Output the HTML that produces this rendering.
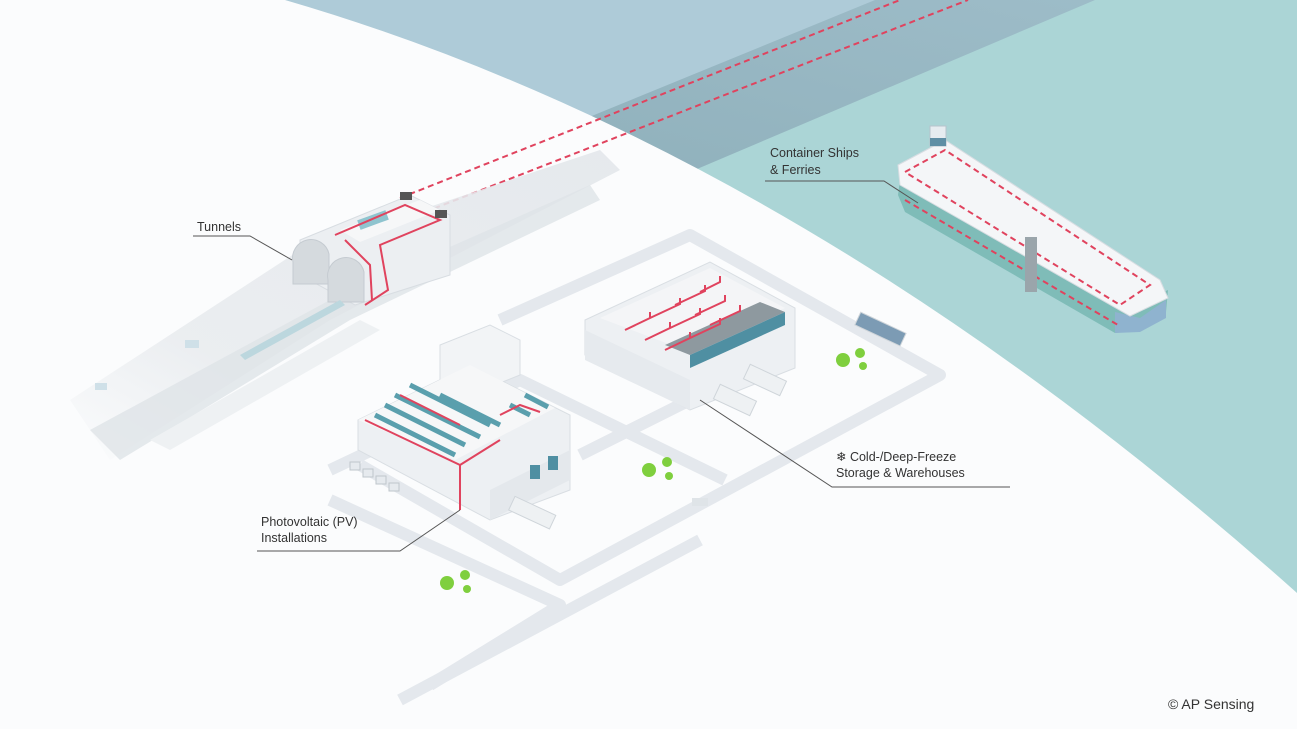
<!DOCTYPE html>
<html><head><meta charset="utf-8"><style>
html,body{margin:0;padding:0;background:#fbfcfd;}
svg{display:block;font-family:"Liberation Sans","DejaVu Sans",sans-serif;}
</style></head><body>
<svg width="1297" height="729" viewBox="0 0 1297 729" xmlns="http://www.w3.org/2000/svg">
<defs>
<linearGradient id="road" x1="0" y1="1" x2="1" y2="0">
<stop offset="0" stop-color="#fbfcfd"/><stop offset="0.3" stop-color="#e9ecef"/><stop offset="1" stop-color="#e3e7eb"/>
</linearGradient>
<linearGradient id="band" x1="0" y1="1" x2="1" y2="0">
<stop offset="0" stop-color="#8fb0bb"/><stop offset="1" stop-color="#9dbcc8"/>
</linearGradient>
</defs>
<!-- sea -->
<rect width="1297" height="729" fill="#abd5d6"/>
<polygon points="285,0 1090,0 690,170 285,170" fill="#aecbd8"/>
<polygon points="875,0 1095,0 690,172 455,172" fill="url(#band)"/>
<!-- land -->
<path d="M0,0 L285,0 Q800,150 1297,593 L1297,729 L0,729 Z" fill="#fbfcfd"/>
<!-- red dashed cables from tunnel -->
<line x1="400" y1="198" x2="900" y2="0" stroke="#e0435e" stroke-width="2" stroke-dasharray="6,4"/>
<line x1="425" y1="212" x2="968" y2="0" stroke="#e0435e" stroke-width="2" stroke-dasharray="6,4"/>
<!-- tunnel roads -->
<polygon points="70,400 300,250 600,150 620,170 330,320 110,460" fill="url(#road)" opacity="0.9"/>
<polygon points="90,430 330,300 590,185 600,200 350,320 120,460" fill="#dfe3e7" opacity="0.8"/>
<polygon points="150,440 360,320 380,330 170,450" fill="#eef1f3"/>
<!-- tunnel block -->
<polygon points="300,240 410,195 450,215 450,275 355,305 300,275" fill="#eceff2" stroke="#d8dde2"/>
<polygon points="340,230 420,200 440,210 360,242" fill="#f6f7f8"/>
<rect x="358" y="215" width="30" height="10" fill="#8fc4cf" transform="rotate(-20 373 220)"/>
<path d="M293,262 a18,18 0 0 1 36,-8 l0,30 l-36,0z" fill="#d5dade" stroke="#c5cbd1"/>
<path d="M328,280 a18,18 0 0 1 36,-8 l0,30 l-36,0z" fill="#d5dade" stroke="#c5cbd1"/>
<path d="M335,235 L405,205 L440,220 L380,245 L388,290 L365,305" fill="none" stroke="#e0435e" stroke-width="2"/>
<path d="M345,240 L370,265 L372,300" fill="none" stroke="#e0435e" stroke-width="2"/>
<rect x="400" y="192" width="12" height="8" fill="#555"/>
<rect x="435" y="210" width="12" height="8" fill="#555"/>
<rect x="185" y="340" width="14" height="8" fill="#cfe0e8"/>
<rect x="95" y="383" width="12" height="7" fill="#cfe0e8"/>
<polygon points="240,355 340,300 345,305 245,360" fill="#bcd7de"/>
<!-- road grid -->
<g stroke="#e4e8ed" stroke-width="12" fill="none" stroke-linejoin="round">
<polyline points="500,320 690,235 940,375 560,580 360,465"/>
<polyline points="330,500 560,605 430,685"/>
<polyline points="330,470 520,380 725,480"/>
<polyline points="400,700 700,540"/>
<polyline points="690,400 580,455"/>
</g>
<!-- warehouse -->
<polygon points="585,320 710,262 795,308 795,368 690,410 585,355" fill="#edf0f3" stroke="#d9dee3"/>
<polygon points="600,318 710,268 785,308 690,352" fill="#f4f5f7"/>
<polygon points="665,345 760,302 785,312 690,355" fill="#8e999f"/>
<polygon points="690,355 785,312 785,325 690,368" fill="#4f8fa2"/>
<polygon points="585,330 690,380 690,410 585,360" fill="#e6eaee"/>
<g stroke="#e0435e" stroke-width="2" fill="none">
<path d="M625,330 l25,-12 l0,-6 M645,340 l25,-12 l0,-6 M665,350 l25,-12 l0,-6 M650,318 l30,-14 l0,-6 M670,328 l30,-14 l0,-6 M690,338 l30,-14 l0,-6 M675,305 l30,-14 l0,-6 M695,315 l30,-14 l0,-6 M710,325 l30,-14 l0,-6 M700,292 l20,-10 l0,-6"/>
</g>
<rect x="745" y="372" width="40" height="16" fill="#eef1f3" stroke="#cfd5da" transform="rotate(25 765 380)"/>
<rect x="715" y="392" width="40" height="16" fill="#eef1f3" stroke="#cfd5da" transform="rotate(25 735 400)"/>
<rect x="855" y="322" width="50" height="14" fill="#7c9bb4" stroke="#cfd5da" transform="rotate(25 880 330)"/>
<circle cx="843" cy="360" r="7" fill="#7fcf3e"/><circle cx="860" cy="353" r="5" fill="#7fcf3e"/><circle cx="863" cy="366" r="4" fill="#7fcf3e"/>
<!-- PV building -->
<polygon points="358,420 470,365 570,415 570,490 490,520 358,450" fill="#edf0f3" stroke="#d9dee3"/>
<polygon points="440,345 490,325 520,340 520,375 470,395 440,380" fill="#f2f4f6" stroke="#d9dee3"/>
<polygon points="358,420 470,365 555,408 455,460" fill="#f6f7f8"/>
<g stroke="#5a9fad" stroke-width="5">
<line x1="375" y1="415" x2="455" y2="455"/><line x1="385" y1="405" x2="465" y2="445"/>
<line x1="395" y1="395" x2="480" y2="437"/><line x1="410" y1="385" x2="490" y2="425"/>
<line x1="440" y1="395" x2="500" y2="425"/><line x1="510" y1="405" x2="530" y2="415"/>
<line x1="525" y1="395" x2="548" y2="407"/>
</g>
<path d="M365,420 L460,465 L460,510 M460,465 L500,440 M400,395 L460,425 M500,415 L520,405 L540,412" fill="none" stroke="#e0435e" stroke-width="2"/>
<line x1="460" y1="470" x2="460" y2="510" stroke="#e0435e" stroke-width="2" stroke-dasharray="5,3"/>
<polygon points="490,490 570,450 570,480 490,520" fill="#e4e8ec"/>
<rect x="530" y="465" width="10" height="14" fill="#4f8fa2"/><rect x="548" y="456" width="10" height="14" fill="#4f8fa2"/>
<rect x="510" y="505" width="45" height="15" fill="#eef1f3" stroke="#cfd5da" transform="rotate(25 532 512)"/>
<g fill="#e6eaee" stroke="#bfc6cc"><rect x="350" y="462" width="10" height="8"/><rect x="363" y="469" width="10" height="8"/><rect x="376" y="476" width="10" height="8"/><rect x="389" y="483" width="10" height="8"/></g>
<circle cx="649" cy="470" r="7" fill="#7fcf3e"/><circle cx="667" cy="462" r="5" fill="#7fcf3e"/><circle cx="669" cy="476" r="4" fill="#7fcf3e"/>
<circle cx="447" cy="583" r="7" fill="#7fcf3e"/><circle cx="465" cy="575" r="5" fill="#7fcf3e"/><circle cx="467" cy="589" r="4" fill="#7fcf3e"/>
<rect x="692" y="498" width="16" height="8" fill="#dfe4e8"/>
<!-- ship -->
<polygon points="900,180 1125,310 1168,290 1166,312 1140,330 1115,333 905,212 898,195" fill="#7fbcb8"/>
<polygon points="1115,312 1140,318 1166,300 1166,318 1140,332 1115,333" fill="#8fb3cf"/>
<polygon points="898,165 945,140 1160,280 1168,298 1130,316 900,185" fill="#f4f6f8" stroke="#d8dde2"/>
<rect x="930" y="126" width="16" height="20" fill="#e6ecf0" stroke="#b7c3cc"/>
<rect x="930" y="138" width="16" height="8" fill="#5f8fa5"/>
<path d="M905,172 L945,150 L1150,285 L1120,305 Z" fill="none" stroke="#e0435e" stroke-width="2" stroke-dasharray="6,4"/>
<path d="M905,200 L1118,325" fill="none" stroke="#e0435e" stroke-width="2" stroke-dasharray="6,4"/>
<rect x="1025" y="237" width="12" height="55" fill="#9aa5ab"/>
<!-- labels -->
<g fill="#333" font-size="12.5">
<text x="197" y="231">Tunnels</text>
<text x="770" y="157">Container Ships</text>
<text x="770" y="174">&amp; Ferries</text>
<text x="836" y="461">❄ Cold-/Deep-Freeze</text>
<text x="836" y="477">Storage &amp; Warehouses</text>
<text x="261" y="526">Photovoltaic (PV)</text>
<text x="261" y="542">Installations</text>
<text x="1168" y="709" font-size="14">© AP Sensing</text>
</g>
<g stroke="#555" stroke-width="1" fill="none">
<polyline points="193,236 250,236 292,260"/>
<polyline points="765,181 884,181 918,203"/>
<polyline points="1010,487 832,487 700,400"/>
<polyline points="257,551 400,551 460,510"/>
</g>
</svg>
</body></html>
